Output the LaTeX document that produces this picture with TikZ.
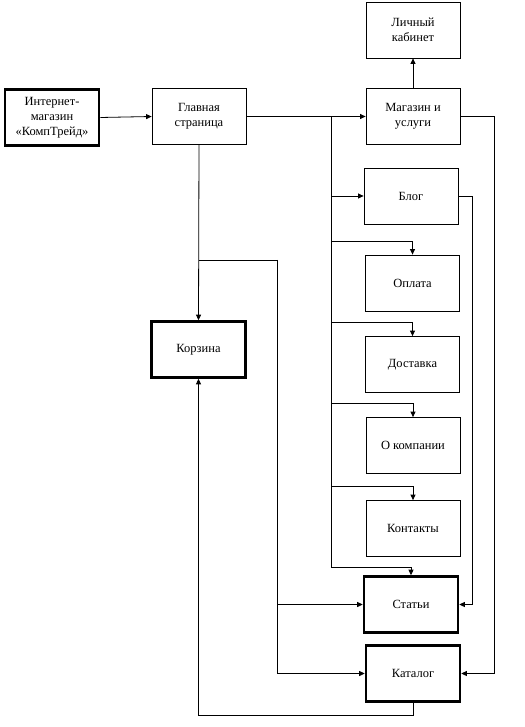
\documentclass[tikz,border=0pt]{standalone}
\usepackage{fontspec}
\setmainfont{Liberation Serif}
\usetikzlibrary{arrows.meta}

\tikzset{
    pagebox/.style={
        draw,
        line width=0.8pt,
        minimum width=94pt,
        minimum height=56pt,
        align=center,
        inner sep=1pt,
        font=\fontsize{12.5}{15}\selectfont
    },
    boldbox/.style={pagebox, line width=2.6pt},
    link/.style={line width=0.8pt},
    linkarr/.style={link, -{Triangle[length=5.5pt,width=5pt]}}
}

\begin{document}
\begin{tikzpicture}[x=1pt,y=-1pt]

% Page background
\fill[white] (0,0) rectangle (524,727);
\useasboundingbox (0,0) rectangle (524,727);

% =====================================================
% PAGES
% =====================================================
\node[boldbox] (shop) at (52,117.5) {Интернет-\\магазин\\«КомпТрейд»};
\node[pagebox] (main) at (199,116.5) {Главная\\страница};

\node[pagebox] (cabinet) at (413,30) {Личный\\кабинет};
\node[pagebox] (services) at (413,116.5) {Магазин и\\услуги};

\node[pagebox] (blog) at (411,196) {Блог};
\node[pagebox] (payment) at (412.5,283) {Оплата};
\node[pagebox] (delivery) at (412.5,364.5) {Доставка};
\node[pagebox] (about) at (413,445.5) {О компании};
\node[pagebox] (contacts) at (413,528.5) {Контакты};

\node[boldbox] (articles) at (411,604.5) {Статьи};
\node[boldbox] (catalog) at (413,673.5) {Каталог};
\node[boldbox] (cart) at (198.5,349.5) {Корзина};

% =====================================================
% TOP ROW LINKS
% =====================================================
\draw[linkarr] (shop.east) -- (main.west);
\draw[linkarr] (main.east) -- (services.west);
\draw[linkarr] (services.north) -- (cabinet.south);

% =====================================================
% MAIN BUS TO THE INFO PAGES
% =====================================================
\coordinate (busTop) at (331,117);
\path (busTop) ++(0,450) coordinate (busEnd);

\draw[linkarr] (busTop) -- (busEnd) -| (articles.north);
\draw[linkarr] (busTop |- blog.west) -- (blog.west);

% Branches into the page tops
\foreach \page/\off in {payment/124,delivery/205,about/286,contacts/369} {
    \path (busTop) ++(0,\off) coordinate (tap-\page);
    \draw[linkarr] (tap-\page) -| (\page.north);
}

% =====================================================
% CART AND LEFT BUS
% =====================================================
\draw[linkarr] (main.south) -- (cart.north);

\path (main.south) ++(0,115) coordinate (cartTap);
\path (cartTap) ++(78,0) coordinate (leftBus);

\draw[link] (cartTap) -- (leftBus);
\draw[linkarr] (leftBus) |- (catalog.west);
\draw[linkarr] (leftBus |- articles.west) -- (articles.west);

% =====================================================
% RIGHT RETURN LINES
% =====================================================
\draw[linkarr] (blog.east) -- ++(14,0) |- (articles.east);
\draw[linkarr] (services.east) -- ++(34,0) |- (catalog.east);

% Catalog back to the cart
\draw[linkarr] (catalog.south) -- ++(0,13) -| (cart.south);

\end{tikzpicture}
\end{document}
